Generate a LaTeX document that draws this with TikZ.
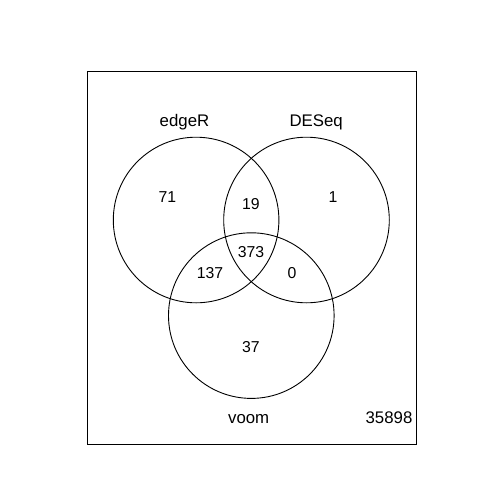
\documentclass[tikz,border=0pt]{standalone}
\usepackage{fontspec}
\setmainfont{Liberation Sans}
\begin{document}
\begin{tikzpicture}[x=1pt,y=-1pt,
  setcircle/.style={draw=black,line width=0.9pt},
  num/.style={inner sep=0pt,font=\fontsize{15.8}{18}\selectfont},
  lab/.style={inner sep=0pt,anchor=base,font=\fontsize{16.8}{19}\selectfont}]
\useasboundingbox (0,0) rectangle (504,504);
\fill[white] (0,0) rectangle (504,504);
\draw[line width=0.9pt] (87,71) rectangle (416,444);
\node[setcircle,circle,minimum size=165.6pt,inner sep=0pt] (edgeR) at (196.1,220.0) {};
\node[setcircle,circle,minimum size=165.6pt,inner sep=0pt] (DESeq) at (306.5,220.0) {};
\node[setcircle,circle,minimum size=165.6pt,inner sep=0pt] (voom) at (251.3,315.6) {};
\node[lab] (tedgeR) at (184.5,126) {edgeR};
\node[lab] (tDESeq) at (316.2,126) {DESeq};
\node[lab] (tvoom) at (248.7,423.3) {voom};
\node[lab] (tout) at (389,423.3) {35898};
\node[num] (n71) at (167.5,197) {71};
\node[num] (n19) at (251,203.7) {19};
\node[num] (n1) at (333,197) {1};
\node[num] (n373) at (251,251.7) {373};
\node[num] (n137) at (210,272.7) {137};
\node[num] (n0) at (292,272.7) {0};
\node[num] (n37) at (251,347) {37};
\end{tikzpicture}
\end{document}
